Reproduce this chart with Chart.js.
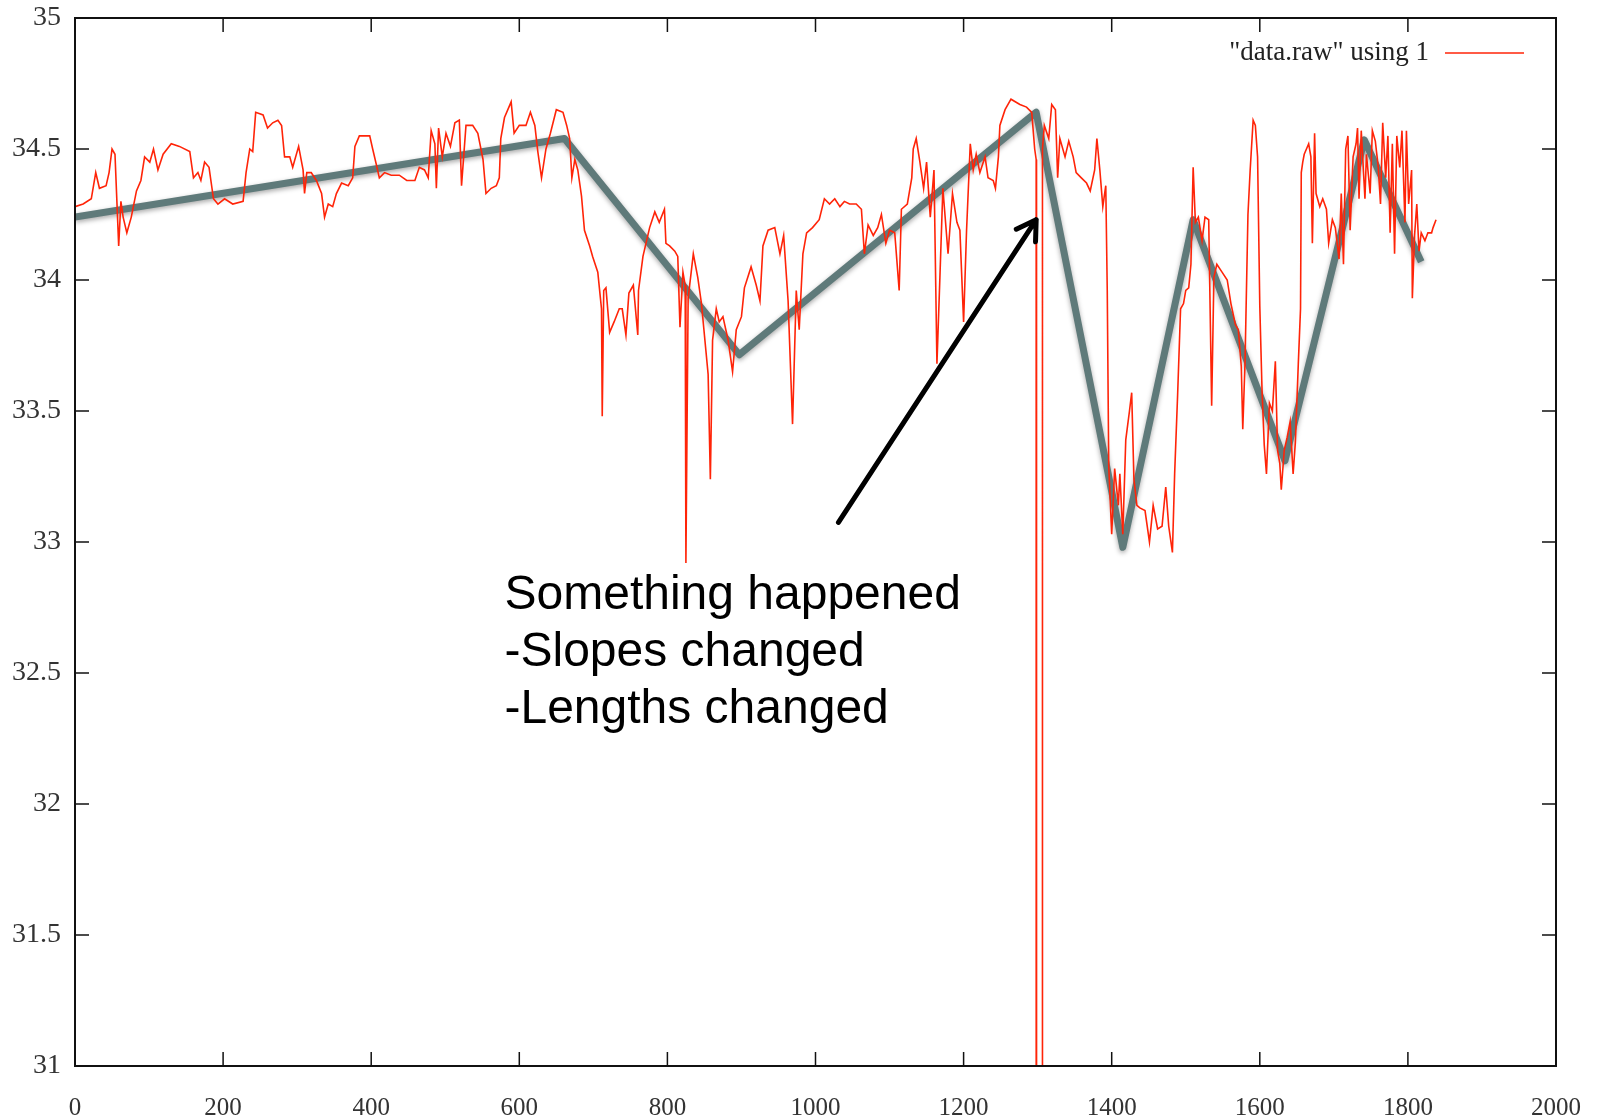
<!DOCTYPE html>
<html lang="en">
<head>
<meta charset="UTF-8" />
<title>data.raw using 1</title>
<script src="https://cdn.jsdelivr.net/npm/chart.js"></script>
<style>
  html, body { margin: 0; padding: 0; background: #fff; }
  #rawChart { display: block; }
</style>
</head>
<body>
<canvas id="rawChart" width="1598" height="1120"></canvas>
<script>
  // raw series (sample index / value)
  const rawIndex = [
    0, 11, 22, 28, 33, 42, 46, 50, 54, 59, 62, 65, 70, 76, 83, 89, 94, 101, 106, 112,
    119, 130, 141, 155, 160, 166, 170, 175, 181, 187, 193, 202, 213, 227, 231, 236, 240, 244, 254, 260,
    267, 274, 279, 283, 290, 294, 302, 308, 310, 313, 319, 326, 333, 337, 342, 348, 353, 360, 369, 375,
    378, 384, 398, 402, 407, 411, 418, 427, 438, 448, 459, 465, 472, 477, 481, 486, 488, 491, 496, 501,
    507, 513, 519, 522, 528, 537, 544, 551, 555, 562, 569, 573, 575, 580, 589, 593, 600, 609, 615, 621,
    625, 630, 636, 642, 650, 659, 664, 668, 671, 675, 679, 684, 688, 695, 699, 706, 711, 712, 714, 717,
    722, 728, 735, 739, 744, 748, 754, 760, 761, 767, 776, 783, 789, 796, 798, 803, 810, 814, 817, 821,
    824, 825, 828, 835, 841, 846, 852, 855, 858, 861, 866, 870, 875, 882, 888, 893, 900, 904, 913, 920,
    925, 929, 936, 945, 952, 957, 963, 969, 974, 978, 983, 988, 996, 1005, 1012, 1019, 1026, 1033, 1039, 1046,
    1055, 1062, 1066, 1071, 1078, 1084, 1089, 1095, 1100, 1107, 1113, 1116, 1124, 1130, 1132, 1136, 1141, 1146, 1150, 1155,
    1160, 1164, 1168, 1172, 1179, 1185, 1191, 1195, 1200, 1204, 1209, 1213, 1217, 1222, 1229, 1233, 1240, 1243, 1247, 1249,
    1256, 1264, 1276, 1285, 1292, 1296, 1298, 1298.5, 1306, 1306.5, 1309, 1315, 1319, 1324, 1327, 1330, 1337, 1342, 1348, 1352,
    1359, 1366, 1371, 1377, 1380, 1384, 1388, 1392, 1394, 1396, 1400, 1404, 1409, 1411, 1415, 1419, 1424, 1427, 1430, 1434,
    1438, 1445, 1451, 1456, 1462, 1468, 1473, 1477, 1482, 1485, 1489, 1493, 1497, 1500, 1504, 1507, 1510, 1513, 1517, 1522,
    1526, 1531, 1535, 1538, 1542, 1549, 1556, 1561, 1567, 1571, 1575, 1577, 1580, 1584, 1587, 1591, 1594, 1597, 1600, 1603,
    1606, 1609, 1613, 1617, 1621, 1624, 1627, 1629, 1633, 1637, 1641, 1645, 1648, 1652, 1655, 1656, 1658, 1660, 1666, 1669,
    1671, 1674, 1676, 1681, 1685, 1690, 1693, 1698, 1702, 1707, 1710, 1713, 1716, 1719, 1722, 1726, 1730, 1732, 1734, 1737,
    1742, 1744, 1749, 1752, 1756, 1760, 1763, 1766, 1770, 1773, 1776, 1779, 1782, 1785, 1789, 1792, 1796, 1798, 1801, 1805,
    1806, 1809, 1812, 1815, 1818, 1823, 1827, 1832, 1834, 1838
  ];
  const rawValue = [
    34.28, 34.29, 34.31, 34.41, 34.35, 34.36, 34.41, 34.50, 34.48, 34.13, 34.30, 34.24, 34.18, 34.24, 34.34, 34.38, 34.47, 34.45, 34.50, 34.42,
    34.48, 34.52, 34.51, 34.49, 34.39, 34.41, 34.38, 34.45, 34.43, 34.31, 34.29, 34.31, 34.29, 34.30, 34.41, 34.50, 34.49, 34.64, 34.63, 34.58,
    34.60, 34.61, 34.59, 34.47, 34.47, 34.43, 34.51, 34.42, 34.33, 34.41, 34.41, 34.38, 34.33, 34.24, 34.29, 34.28, 34.33, 34.37, 34.36, 34.39,
    34.51, 34.55, 34.55, 34.50, 34.44, 34.39, 34.41, 34.40, 34.40, 34.38, 34.38, 34.43, 34.42, 34.39, 34.57, 34.52, 34.35, 34.58, 34.47, 34.56,
    34.51, 34.60, 34.61, 34.36, 34.59, 34.59, 34.56, 34.46, 34.33, 34.35, 34.36, 34.39, 34.54, 34.62, 34.68, 34.56, 34.59, 34.59, 34.64, 34.59,
    34.49, 34.39, 34.50, 34.56, 34.65, 34.64, 34.59, 34.54, 34.39, 34.46, 34.42, 34.32, 34.19, 34.13, 34.09, 34.03, 33.89, 33.48, 33.96, 33.97,
    33.80, 33.84, 33.89, 33.89, 33.79, 33.95, 33.98, 33.79, 33.96, 34.09, 34.20, 34.26, 34.22, 34.27, 34.14, 34.13, 34.11, 34.09, 33.82, 34.03,
    33.98, 32.92, 33.93, 34.10, 34.01, 33.91, 33.73, 33.64, 33.24, 33.77, 33.89, 33.84, 33.86, 33.77, 33.65, 33.81, 33.86, 33.97, 34.05, 33.98,
    33.92, 34.13, 34.19, 34.20, 34.10, 34.17, 33.92, 33.45, 33.96, 33.81, 34.10, 34.18, 34.20, 34.23, 34.31, 34.29, 34.31, 34.28, 34.30, 34.29,
    34.29, 34.27, 34.10, 34.21, 34.17, 34.20, 34.25, 34.14, 34.19, 34.18, 33.96, 34.27, 34.29, 34.39, 34.50, 34.54, 34.45, 34.35, 34.45, 34.24,
    34.42, 33.68, 34.01, 34.35, 34.10, 34.33, 34.22, 34.19, 33.84, 34.19, 34.52, 34.42, 34.48, 34.41, 34.47, 34.39, 34.38, 34.35, 34.47, 34.59,
    34.65, 34.69, 34.67, 34.66, 34.64, 34.50, 34.46, 0, 0, 34.50, 34.59, 34.54, 34.67, 34.65, 34.39, 34.54, 34.47, 34.53, 34.47, 34.41,
    34.39, 34.37, 34.34, 34.42, 34.54, 34.42, 34.28, 34.36, 33.96, 33.29, 33.03, 33.28, 33.14, 33.26, 33.03, 33.39, 33.50, 33.57, 33.24, 33.14,
    33.13, 33.12, 33.00, 33.14, 33.05, 33.06, 33.21, 33.06, 32.96, 33.26, 33.56, 33.89, 33.91, 33.96, 33.97, 34.06, 34.43, 34.22, 34.24, 34.15,
    34.24, 34.23, 33.52, 34.01, 34.06, 34.03, 34.00, 33.91, 33.83, 33.81, 33.67, 33.43, 33.68, 34.25, 34.42, 34.61, 34.59, 34.47, 33.90, 33.58,
    33.37, 33.26, 33.53, 33.50, 33.69, 33.35, 33.30, 33.20, 33.35, 33.40, 33.46, 33.26, 33.38, 33.68, 33.89, 34.41, 34.45, 34.48, 34.52, 34.47,
    34.14, 34.56, 34.33, 34.28, 34.31, 34.27, 34.14, 34.23, 34.20, 34.08, 34.33, 34.06, 34.50, 34.55, 34.19, 34.47, 34.52, 34.58, 34.31, 34.57,
    34.31, 34.48, 34.33, 34.57, 34.53, 34.43, 34.29, 34.60, 34.39, 34.55, 34.18, 34.52, 34.10, 34.55, 34.43, 34.57, 34.22, 34.57, 34.29, 34.42,
    33.93, 34.17, 34.29, 34.11, 34.18, 34.15, 34.18, 34.18, 34.20, 34.23
  ];

  // hand-drawn piecewise trend (grey)
  const trendIndex = [0, 661, 897, 1298, 1415, 1510, 1634, 1741, 1818];
  const trendValue = [34.24, 34.54, 33.715, 34.64, 32.98, 34.23, 33.31, 34.535, 34.07];

  // annotation
  const noteLines = ['Something happened', '-Slopes changed', '-Lengths changed'];
  const noteAnchor = [580, 32.745];
  const arrowTail = [1031, 33.075];
  const arrowHead = [1298, 34.23];
  const legendLabel = '"data.raw" using 1';

  const RED = 'rgb(255, 36, 8)';
  const GREY = '#5f7a7a';

  const frameAndNotes = {
    id: 'frameAndNotes',
    beforeDatasetDraw(chart, args) {
      if (args.index === 1) {
        const ctx = chart.ctx;
        ctx.save();
        ctx.shadowColor = 'rgba(0, 0, 0, 0.35)';
        ctx.shadowBlur = 5;
        ctx.shadowOffsetY = 2;
      }
    },
    afterDatasetDraw(chart, args) {
      if (args.index === 1) chart.ctx.restore();
    },
    afterDraw(chart) {
      const { ctx, chartArea: a, scales: { x, y } } = chart;
      ctx.save();

      // frame + inward ticks on all four sides
      ctx.strokeStyle = '#111';
      ctx.lineWidth = 2;
      ctx.strokeRect(a.left, a.top, a.right - a.left, a.bottom - a.top);
      ctx.lineWidth = 1.5;
      ctx.beginPath();
      x.ticks.forEach(t => {
        const px = x.getPixelForValue(t.value);
        ctx.moveTo(px, a.bottom); ctx.lineTo(px, a.bottom - 14);
        ctx.moveTo(px, a.top); ctx.lineTo(px, a.top + 14);
      });
      y.ticks.forEach(t => {
        const py = y.getPixelForValue(t.value);
        ctx.moveTo(a.left, py); ctx.lineTo(a.left + 14, py);
        ctx.moveTo(a.right, py); ctx.lineTo(a.right - 14, py);
      });
      ctx.stroke();

      // key, top right
      ctx.font = '27px "Liberation Serif"';
      ctx.fillStyle = '#222';
      ctx.textAlign = 'right';
      ctx.textBaseline = 'alphabetic';
      ctx.fillText(legendLabel, a.right - 127, a.top + 42);
      ctx.strokeStyle = RED;
      ctx.lineWidth = 1.6;
      ctx.beginPath();
      ctx.moveTo(a.right - 111, a.top + 35);
      ctx.lineTo(a.right - 32, a.top + 35);
      ctx.stroke();

      // arrow
      const x0 = x.getPixelForValue(arrowTail[0]), y0 = y.getPixelForValue(arrowTail[1]);
      const x1 = x.getPixelForValue(arrowHead[0]), y1 = y.getPixelForValue(arrowHead[1]);
      const ang = Math.atan2(y1 - y0, x1 - x0);
      ctx.strokeStyle = '#000';
      ctx.lineWidth = 5;
      ctx.lineCap = 'round';
      ctx.lineJoin = 'round';
      ctx.beginPath();
      ctx.moveTo(x0, y0);
      ctx.lineTo(x1, y1);
      ctx.moveTo(x1 - 22 * Math.cos(ang - 0.55), y1 - 22 * Math.sin(ang - 0.55));
      ctx.lineTo(x1, y1);
      ctx.lineTo(x1 - 22 * Math.cos(ang + 0.55), y1 - 22 * Math.sin(ang + 0.55));
      ctx.stroke();

      // text note
      ctx.font = '48px "Liberation Sans"';
      ctx.fillStyle = '#000';
      ctx.textAlign = 'left';
      const nx = x.getPixelForValue(noteAnchor[0]);
      const ny = y.getPixelForValue(noteAnchor[1]);
      noteLines.forEach((line, i) => ctx.fillText(line, nx, ny + i * 57));

      ctx.restore();
    }
  };

  new Chart(document.getElementById('rawChart'), {
    type: 'line',
    data: {
      datasets: [
        {
          label: legendLabel,
          data: rawIndex.map((v, i) => ({ x: v, y: rawValue[i] })),
          borderColor: RED,
          borderWidth: 1.6,
          pointRadius: 0,
          tension: 0
        },
        {
          label: 'trend',
          data: trendIndex.map((v, i) => ({ x: v, y: trendValue[i] })),
          borderColor: GREY,
          borderWidth: 7,
          borderJoinStyle: 'round',
          borderCapStyle: 'butt',
          pointRadius: 0,
          tension: 0
        }
      ]
    },
    options: {
      responsive: false,
      animation: false,
      devicePixelRatio: 1,
      layout: { padding: { top: 18, right: 42, left: 0, bottom: 0 } },
      plugins: { legend: { display: false }, tooltip: { enabled: false } },
      scales: {
        x: {
          type: 'linear',
          min: 0,
          max: 2000,
          ticks: {
            stepSize: 200, padding: 19, maxRotation: 0, color: '#333',
            font: { family: '"Liberation Serif"', size: 25 },
            callback: v => String(v)
          },
          grid: { display: false },
          border: { display: false },
          afterFit: s => { s.height = 54; s.paddingLeft = 0; s.paddingRight = 0; }
        },
        y: {
          type: 'linear',
          min: 31,
          max: 35,
          ticks: {
            stepSize: 0.5, padding: 6, color: '#333',
            font: { family: '"Liberation Serif"', size: 28 },
            callback: v => String(v)
          },
          grid: { display: false },
          border: { display: false },
          afterFit: s => { s.width = 75; s.paddingTop = 0; s.paddingBottom = 0; }
        }
      }
    },
    plugins: [frameAndNotes]
  });
</script>
</body>
</html>
